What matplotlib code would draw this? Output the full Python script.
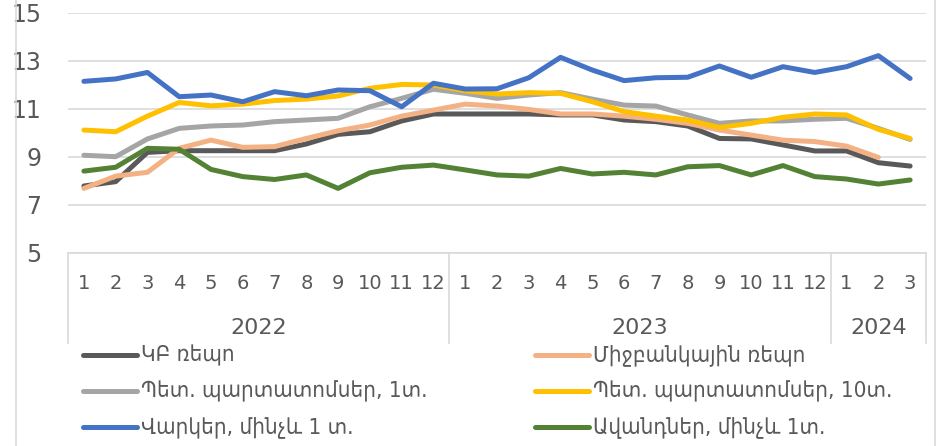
import matplotlib
matplotlib.use("Agg")
import matplotlib.pyplot as plt
import matplotlib.transforms as mtransforms
from matplotlib.lines import Line2D
from matplotlib import font_manager as fm
import numpy as np

# ---------------- data ----------------
months = [str(m) for m in range(1, 13)] + [str(m) for m in range(1, 13)] + ["1", "2", "3"]
years = ["2022", "2023", "2024"]
year_counts = [12, 12, 3]

cb_repo = [7.78, 7.96, 9.18, 9.25, 9.25, 9.25, 9.25, 9.53, 9.93, 10.04, 10.49, 10.78,
           10.78, 10.78, 10.78, 10.74, 10.74, 10.53, 10.46, 10.28, 9.76, 9.74, 9.49, 9.24,
           9.24, 8.75, 8.61]
interbank_repo = [7.68, 8.19, 8.35, 9.35, 9.69, 9.39, 9.42, 9.76, 10.08, 10.32, 10.69, 10.94,
                  11.19, 11.11, 10.97, 10.78, 10.78, 10.69, 10.56, 10.39, 10.11, 9.90, 9.69, 9.63,
                  9.44, 8.97, np.nan]
gov_bonds_1y = [9.06, 9.00, 9.74, 10.18, 10.28, 10.32, 10.46, 10.53, 10.60, 11.08, 11.43, 11.81,
                11.64, 11.43, 11.57, 11.67, 11.40, 11.15, 11.11, 10.74, 10.39, 10.49, 10.49, 10.56,
                10.60, 10.18, 9.72]
gov_bonds_10y = [10.11, 10.04, 10.69, 11.26, 11.12, 11.19, 11.34, 11.40, 11.53, 11.85, 12.01, 11.99,
                 11.75, 11.61, 11.67, 11.64, 11.29, 10.88, 10.69, 10.53, 10.22, 10.39, 10.64, 10.78,
                 10.74, 10.14, 9.76]
loans_1y = [12.14, 12.24, 12.51, 11.50, 11.57, 11.29, 11.71, 11.54, 11.78, 11.75, 11.08, 12.06,
            11.82, 11.83, 12.29, 13.14, 12.61, 12.17, 12.29, 12.31, 12.78, 12.31, 12.75, 12.51,
            12.75, 13.21, 12.26]
deposits_1y = [8.40, 8.56, 9.35, 9.31, 8.47, 8.17, 8.05, 8.24, 7.68, 8.33, 8.56, 8.65,
               8.45, 8.24, 8.19, 8.51, 8.28, 8.35, 8.24, 8.58, 8.63, 8.24, 8.63, 8.17,
               8.07, 7.86, 8.03]

series_names = ["ԿԲ ռեպո", "Միջբանկային ռեպո",
                "Պետ. պարտատոմսեր, 1տ.", "Պետ. պարտատոմսեր, 10տ.",
                "Վարկեր, մինչև 1 տ.", "Ավանդներ, մինչև 1տ."]
series_values = [cb_repo, interbank_repo, gov_bonds_1y, gov_bonds_10y, loans_1y, deposits_1y]
series_colors = ["#595959", "#F4B183", "#A5A5A5", "#FFC000", "#4472C4", "#548235"]

yticks = [5, 7, 9, 11, 13, 15]

# ---------------- fonts ----------------
TXT = "#595959"
GRID = "#D9D9D9"

def pick_condensed():
    try:
        p = fm.findfont(fm.FontProperties(family="DejaVu Sans", stretch="condensed"),
                        fallback_to_default=False)
        if "Condensed" in p:
            return True
    except Exception:
        pass
    return False

condensed = pick_condensed()
num_family = ["Liberation Sans Narrow", "DejaVu Sans"]
if "Liberation Sans Narrow" not in {f.name for f in fm.fontManager.ttflist}:
    num_family = ["DejaVu Sans"]
arm_kw = dict(family=["DejaVu Sans"], stretch="condensed", fontsize=16) if condensed \
    else dict(family=["DejaVu Sans"], fontsize=14)

# ---------------- figure ----------------
W, H = 946, 446
fig = plt.figure(figsize=(W / 100, H / 100), dpi=100)

def fx(px):
    return px / W

def fy(py):
    return 1 - py / H

ax_l, ax_r, ax_t, ax_b = 68, 926, 12.7, 252.7
ax = fig.add_axes([fx(ax_l), fy(ax_b), (ax_r - ax_l) / W, (ax_b - ax_t) / H])

n = len(months)
x = np.arange(n)
for vals, col in zip(series_values, series_colors):
    ax.plot(x, vals, color=col, lw=3.6, solid_joinstyle="round", solid_capstyle="round",
            zorder=3)

ax.set_xlim(-0.5, n - 0.5)
ax.set_ylim(5, 15)
for s in ax.spines.values():
    s.set_visible(False)
ax.set_yticks(yticks)
ax.set_yticklabels([str(v) for v in yticks], family=num_family, fontsize=17, color=TXT)
ax.tick_params(axis="y", length=0, pad=19)
ax.grid(axis="y", color=GRID, lw=1.2, zorder=0)
ax.set_xticks(x)
ax.set_xticklabels(months, family=num_family, fontsize=14, color=TXT)
ax.tick_params(axis="x", length=0, pad=15)

# category axis: bottom line and year separators
trans = mtransforms.blended_transform_factory(ax.transData, ax.transAxes)
sep_depth = -(343 - ax_b) / (ax_b - ax_t)
bounds = np.concatenate([[0], np.cumsum(year_counts)]) - 0.5
for b in bounds:
    ax.add_line(Line2D([b, b], [0, sep_depth], transform=trans, color=GRID, lw=1.2,
                       clip_on=False))
ax.add_line(Line2D([-0.5, n - 0.5], [0, 0], transform=trans, color=GRID, lw=1.2,
                   clip_on=False))
year_y = -(328 - ax_b) / (ax_b - ax_t)
for yr, a, b in zip(years, bounds[:-1], bounds[1:]):
    ax.text((a + b) / 2, year_y, yr, transform=trans, ha="center", va="center",
            family=num_family, fontsize=16, color=TXT)

# outer chart border (left/right)
for px in (16, 935):
    fig.add_artist(Line2D([fx(px), fx(px)], [0, 1], transform=fig.transFigure,
                          color=GRID, lw=1.2))

# legend (two columns, three rows)
rows_y = [355, 391, 427]
cols_x = [83, 535]
for i, (name, col) in enumerate(zip(series_names, series_colors)):
    r, c = divmod(i, 2)
    x0 = cols_x[c]
    yy = fy(rows_y[r])
    fig.add_artist(Line2D([fx(x0), fx(x0 + 54)], [yy, yy], transform=fig.transFigure,
                          color=col, lw=3.6, solid_capstyle="round"))
    fig.text(fx(x0 + 58), yy, name, ha="left", va="center", color=TXT, **arm_kw)

fig.savefig("out.png", dpi=100)
